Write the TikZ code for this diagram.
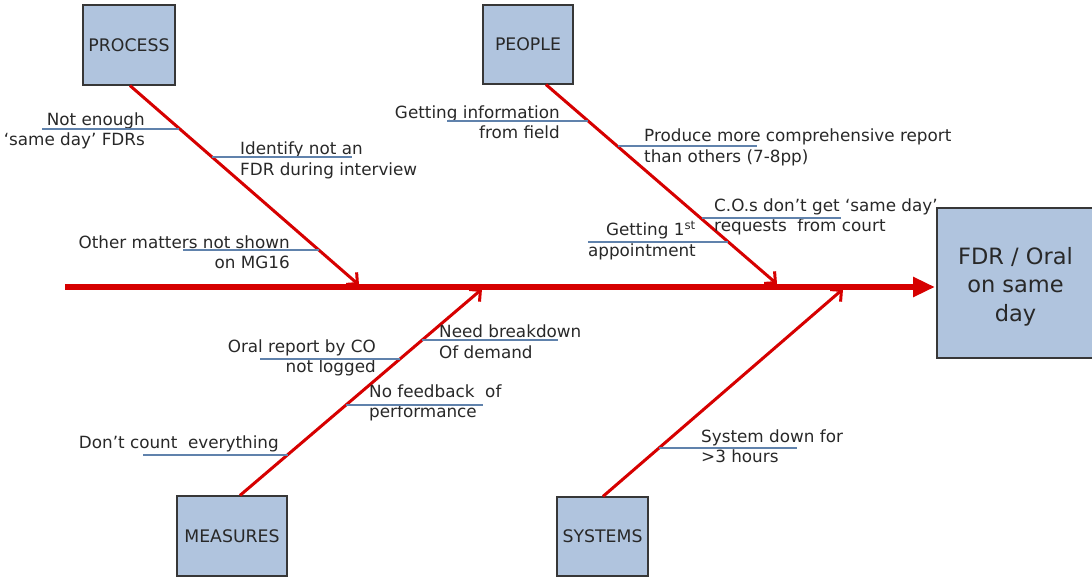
\documentclass[tikz,border=0pt]{standalone}
\usepackage{fontspec}
\setmainfont{DejaVu Sans}
\usetikzlibrary{arrows.meta,calc}
\definecolor{fbred}{RGB}{214,0,0}
\definecolor{boxfill}{RGB}{176,196,222}
\definecolor{boxline}{RGB}{55,55,55}
\definecolor{ulcol}{RGB}{96,130,172}
\definecolor{txt}{RGB}{40,40,40}
\begin{document}
\begin{tikzpicture}[x=1pt,y=-1pt,
  cat/.style={draw=boxline, line width=1.2pt, fill=boxfill, inner sep=0pt, font=\fontsize{17.3}{21}\selectfont, text=txt},
  spine/.style={draw=fbred, line width=6pt, -{Triangle[length=22pt,width=19pt]}},
  bone/.style={draw=fbred, line width=3pt, -{Straight Barb[length=8pt,width=16pt]}},
  cause/.style={font=\fontsize{16.8}{20.5}\selectfont, text=txt, inner sep=0pt},
  uline/.style={draw=ulcol, line width=1.2pt}]
\useasboundingbox (0,0) rectangle (1092,577);

% category boxes and effect box
\node[cat, minimum width=92pt, minimum height=80pt] (process) at (129,45) {PROCESS};
\node[cat, minimum width=90pt, minimum height=79pt] (people) at (528,44.5) {PEOPLE};
\node[cat, minimum width=110pt, minimum height=80pt] (measures) at (232,536) {MEASURES};
\node[cat, minimum width=91pt, minimum height=79pt] (systems) at (602.5,536.5) {SYSTEMS};
\node[cat, minimum width=159pt, minimum height=150pt] (effect) at (1016.5,283) {};
\node[inner sep=0pt, text=txt, align=center, font=\fontsize{22.5}{28.5}\selectfont]
      (effecttext) at ($(effect.center)+(-1,3.5)$) {FDR / Oral\\on same\\day};

% spine and bones
\coordinate (spineS) at (65,287);
\coordinate (spineE) at (935,287);
\coordinate (tipProc) at (359,285);
\coordinate (tipPeop) at (777,284);
\coordinate (tipMeas) at (482,289);
\coordinate (tipSys) at (843,289);
\draw[spine] (spineS) -- (spineE);
\draw[bone] ($(process.south)+(1,0)$) -- (tipProc);
\draw[bone] ($(people.south)+(18,0)$) -- (tipPeop);
\draw[bone] ($(measures.north)+(8,0)$) -- (tipMeas);
\draw[bone] ($(systems.north)+(0.5,0)$) -- (tipSys);

% PROCESS causes
\node[cause, anchor=east, align=right] (c1) at (145,131) {Not enough\\‘same day’ FDRs};
\coordinate (u1a) at (42,129); \coordinate (u1b) at (179,129);
\draw[uline] (u1a) -- (u1b);
\node[cause, anchor=west, align=left] (c2) at (240,160.5) {Identify not an\\FDR during interview};
\coordinate (u2a) at (212,157); \coordinate (u2b) at (352,157);
\draw[uline] (u2a) -- (u2b);
\node[cause, anchor=east, align=right] (c3) at (290,252) {Other matters not shown\\on MG16};
\coordinate (u3a) at (183,250); \coordinate (u3b) at (319,250);
\draw[uline] (u3a) -- (u3b);

% PEOPLE causes
\node[cause, anchor=east, align=right] (c4) at (560,122) {Getting information\\from field};
\coordinate (u4a) at (447,121); \coordinate (u4b) at (588,121);
\draw[uline] (u4a) -- (u4b);
\node[cause, anchor=west, align=left] (c5) at (644,147.5) {Produce more comprehensive report\\than others (7-8pp)};
\coordinate (u5a) at (618,146); \coordinate (u5b) at (757,146);
\draw[uline] (u5a) -- (u5b);
\node[cause, anchor=west, align=left] (c6) at (714,217) {C.O.s don’t get ‘same day’\\requests\ \ from court};
\coordinate (u6a) at (702,218); \coordinate (u6b) at (841,218);
\draw[uline] (u6a) -- (u6b);
\node[cause, anchor=east, align=right] (c7) at (696,240.5) {Getting 1\textsuperscript{st}\\appointment};
\coordinate (u7a) at (588,242); \coordinate (u7b) at (728,242);
\draw[uline] (u7a) -- (u7b);

% MEASURES causes
\node[cause, anchor=west, align=left] (c8) at (439,341.5) {Need breakdown\\Of demand};
\coordinate (u8a) at (422,340); \coordinate (u8b) at (558,340);
\draw[uline] (u8a) -- (u8b);
\node[cause, anchor=east, align=right] (c9) at (376,358) {Oral report by CO\\not logged};
\coordinate (u9a) at (260,359); \coordinate (u9b) at (400,359);
\draw[uline] (u9a) -- (u9b);
\node[cause, anchor=west, align=left] (c10) at (369,403) {No feedback\ \ of\\performance};
\coordinate (u10a) at (346,405); \coordinate (u10b) at (483,405);
\draw[uline] (u10a) -- (u10b);
\node[cause, anchor=east] (c11) at (279,444) {Don’t count\ \ everything};
\coordinate (u11a) at (143,455); \coordinate (u11b) at (288,455);
\draw[uline] (u11a) -- (u11b);

% SYSTEMS cause
\node[cause, anchor=west, align=left] (c12) at (701,446) {System down for\\>3 hours};
\coordinate (u12a) at (659,448); \coordinate (u12b) at (797,448);
\draw[uline] (u12a) -- (u12b);
\end{tikzpicture}
\end{document}
